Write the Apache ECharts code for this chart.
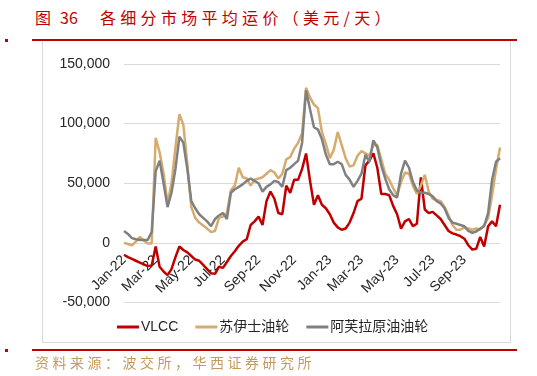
<!DOCTYPE html>
<html>
<head>
<meta charset="utf-8">
<script src="https://cdn.jsdelivr.net/npm/echarts@6/dist/echarts.min.js"></script>
<style>
  html, body { margin: 0; padding: 0; background: #fff; }
  #page { position: relative; width: 537px; height: 376px; overflow: hidden; }
  .red-line { position: absolute; left: 32px; width: 485px; height: 2px; background: #c00000; }
  .red-dot { position: absolute; left: 5px; width: 3px; height: 3px; background: #c00000; }
  #box { position: absolute; left: 42px; top: 41px; width: 467px; height: 301px; border: 1px solid #d9d9d9; border-top: none; }
  .title { position: absolute; top: 5px; color: #c00000; font-family: "Noto Sans CJK SC"; font-size: 16px; white-space: nowrap; }
  #footer { position: absolute; left: 35px; top: 352px; color: #c49a5c; font-family: "Noto Sans CJK SC"; font-size: 14px; letter-spacing: 3.5px; white-space: nowrap; }
  #chart { position: absolute; left: 0; top: 0; width: 537px; height: 376px; }
</style>
</head>
<body>
<div id="page">
  <div class="title" style="left:35px">图</div>
  <div class="title" style="left:60px">36</div>
  <div class="title" style="left:100px;letter-spacing:4.3px">各细分市场平均运价（美元/天）</div>
  <div class="red-dot" style="top:39px"></div>
  <div class="red-line" style="top:39px"></div>
  <div id="box"></div>
  <div id="chart"></div>
  <div class="red-dot" style="top:349px"></div>
  <div class="red-line" style="top:349px"></div>
  <div id="footer">资料来源：波交所，华西证券研究所</div>
</div>
<script>
// weekly observations, USD/day
const vlcc = [
  -10000, -12000, -13500, -15000, -16500, -18000, -19500, -19000, -3000, -20000,
  -24000, -27000, -22000, -12000, -3000, -6000, -8000, -11000, -14000, -15000,
  -18500, -22000, -25500, -26000, -20000, -21000, -16000, -11000, -7000, -2500,
  1000, 3000, 15000, 18000, 22000, 15000, 35000, 43000, 37000, 25000,
  24000, 48000, 42000, 53000, 53000, 62000, 75000, 52000, 32000, 40000,
  32000, 29000, 24000, 17000, 13000, 11000, 12000, 17000, 25000, 35000,
  37000, 65000, 69000, 75000, 63000, 41000, 41000, 40000, 31000, 24000,
  12000, 18000, 20000, 14000, 16000, 55000, 28000, 25000, 26000, 23000,
  20000, 15000, 10000, 8000, 7000, 5600, 3500, -2000, -5600, -5000,
  5000, -3000, 14000, 18000, 14000, 32000
];
const suezmax = [
  0, -1000, -2000, 1000, 5000, 2000, -500, -500, 88000, 76000,
  58000, 33000, 50000, 80000, 108000, 99000, 66000, 30000, 21000, 17000,
  14500, 12000, 9000, 10000, 21000, 22000, 25000, 44000, 48000, 63000,
  55000, 54000, 48000, 53000, 54000, 55000, 58000, 61000, 59000, 54000,
  58000, 70000, 72000, 79000, 84000, 92000, 130000, 122000, 116000, 113000,
  93000, 83000, 71000, 78000, 93000, 82000, 71000, 64000, 65000, 73000,
  77000, 75000, 73000, 82000, 82000, 70000, 58000, 53000, 46000, 40000,
  51000, 59000, 58000, 48000, 41000, 48000, 57000, 43000, 37000, 36000,
  35000, 30000, 23000, 15000, 11000, 11000, 13000, 12000, 11000, 12000,
  11000, 15000, 21000, 40000, 62000, 80000
];
const aframax = [
  10000, 7500, 4000, 3000, 2500, 2500, 2500, 9000, 60000, 69000,
  50000, 30000, 42000, 62000, 89000, 84000, 62000, 35000, 29000, 24000,
  21000, 18000, 14000, 20000, 23000, 25000, 20000, 42000, 45000, 47000,
  49000, 52000, 54000, 52000, 50000, 43000, 47000, 49000, 52000, 51000,
  47000, 61000, 63000, 66000, 69000, 84000, 128000, 112000, 97000, 95000,
  87000, 74000, 66000, 66000, 68000, 66000, 57000, 53000, 47000, 52000,
  58000, 74000, 68000, 86000, 80000, 65000, 54000, 45000, 40000, 38000,
  58000, 69000, 63000, 51000, 44000, 42000, 42000, 41000, 39000, 35000,
  33000, 29000, 21000, 17000, 16000, 15000, 14000, 10000, 8500, 9500,
  12000, 14000, 25000, 53000, 68000, 71000
];
const seriesNames = ['VLCC', '苏伊士油轮', '阿芙拉原油油轮'];
const tickLabels = ['Jan-22', 'Mar-22', 'May-22', 'Jul-22', 'Sep-22', 'Nov-22',
  'Jan-23', 'Mar-23', 'May-23', 'Jul-23', 'Sep-23'];
const firstWeek = '2022-01-07';

const MONTHS = ['Jan', 'Feb', 'Mar', 'Apr', 'May', 'Jun', 'Jul', 'Aug', 'Sep', 'Oct', 'Nov', 'Dec'];
const dates = [];
const t0 = new Date(firstWeek + 'T00:00:00Z').getTime();
for (let i = 0; i < vlcc.length; i++) {
  dates.push(new Date(t0 + i * 7 * 86400000).toISOString().slice(0, 10));
}
const monthLabel = (d) => MONTHS[+d.slice(5, 7) - 1] + '-' + d.slice(2, 4);

const chart = echarts.init(document.getElementById('chart'));
const font = 'Liberation Sans, Noto Sans CJK SC';

// plot spans 64..302.5 px for -50k..150k, so the zero line sits a quarter of the height above the bottom
const zeroOffset = -(302.5 - 64) / 4;

chart.setOption({
  animation: false,
  grid: { left: 124, right: 37, top: 64, bottom: 73.5 },
  legend: {
    data: seriesNames,
    left: 112,
    top: 315,
    icon: 'rect',
    itemWidth: 22,
    itemHeight: 3,
    itemGap: 17,
    textStyle: { fontFamily: font, fontSize: 14, color: '#262626', padding: [0, 0, 0, -3] },
  },
  xAxis: {
    type: 'category',
    data: dates,
    boundaryGap: false,
    offset: zeroOffset,
    axisLine: { onZero: false, lineStyle: { color: '#d9d9d9', width: 1 } },
    axisTick: { show: false },
    axisLabel: {
      rotate: 45,
      margin: 15,
      color: '#262626',
      fontFamily: font,
      fontSize: 14,
      interval: (idx, val) => {
        const lab = monthLabel(val);
        return tickLabels.includes(lab) && (idx === 0 || monthLabel(dates[idx - 1]) !== lab);
      },
      formatter: (val) => monthLabel(val),
    },
  },
  yAxis: {
    type: 'value',
    min: -50000,
    max: 150000,
    interval: 50000,
    axisLine: { show: false },
    axisTick: { show: false },
    axisLabel: {
      margin: 14,
      color: '#262626',
      fontFamily: font,
      fontSize: 14,
      formatter: (v) => v.toLocaleString('en-US'),
    },
    splitLine: { lineStyle: { color: '#d9d9d9', width: 1 } },
  },
  series: [
    { name: seriesNames[0], type: 'line', data: vlcc, symbol: 'none', lineStyle: { width: 2.5, color: '#c00000' }, itemStyle: { color: '#c00000' } },
    { name: seriesNames[1], type: 'line', data: suezmax, symbol: 'none', lineStyle: { width: 2.5, color: '#d5ab6e' }, itemStyle: { color: '#d5ab6e' } },
    { name: seriesNames[2], type: 'line', data: aframax, symbol: 'none', lineStyle: { width: 2.5, color: '#808080' }, itemStyle: { color: '#808080' } },
  ],
});
</script>
</body>
</html>
